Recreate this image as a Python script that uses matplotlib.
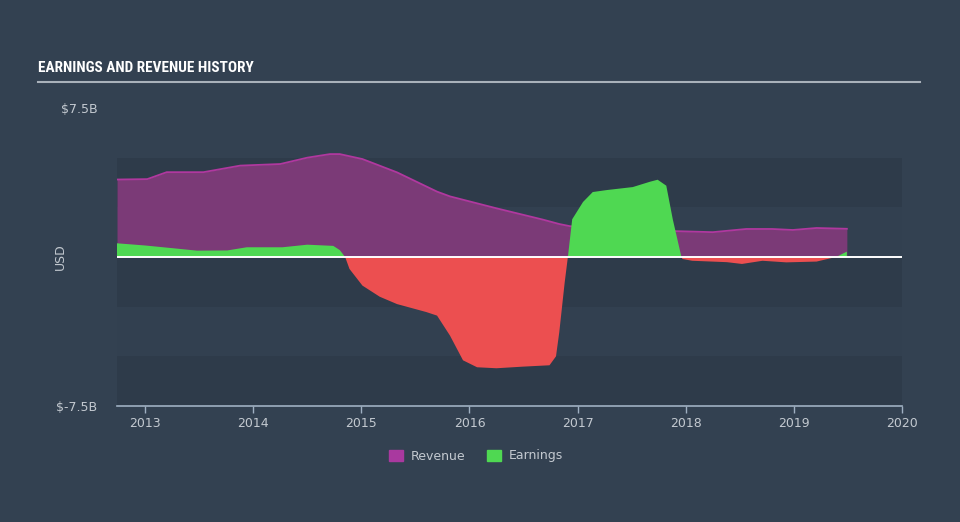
import numpy as np
import matplotlib
matplotlib.use("Agg")
import matplotlib.pyplot as plt
from matplotlib.patches import Patch
from matplotlib import font_manager

# revenue, USD billions
rev_t = [2012.74, 2013.02, 2013.20, 2013.54, 2013.88, 2014.25, 2014.50, 2014.71, 2014.80,
         2015.01, 2015.33, 2015.70, 2015.82, 2016.25, 2016.68, 2016.83, 2016.93, 2017.20,
         2017.60, 2017.92, 2018.25, 2018.56, 2018.80, 2018.99, 2019.21, 2019.49]
rev_v = [3.90, 3.92, 4.27, 4.27, 4.60, 4.68, 5.00, 5.18, 5.18,
         4.93, 4.26, 3.29, 3.05, 2.45, 1.88, 1.66, 1.55, 1.45,
         1.35, 1.30, 1.25, 1.41, 1.41, 1.36, 1.46, 1.42]

# earnings, USD billions
earn_t = [2012.74, 2013.00, 2013.26, 2013.48, 2013.76, 2013.94, 2014.27, 2014.50, 2014.74,
          2014.80, 2014.85, 2014.89, 2015.01, 2015.17, 2015.33, 2015.60, 2015.70, 2015.82,
          2015.94, 2016.07, 2016.25, 2016.49, 2016.74, 2016.80, 2016.83, 2016.88, 2016.91,
          2016.95, 2017.05, 2017.14, 2017.27, 2017.51, 2017.67, 2017.74, 2017.82, 2017.88,
          2017.96, 2017.97, 2018.06, 2018.38, 2018.52, 2018.71, 2018.93, 2019.21, 2019.39,
          2019.49]
earn_v = [0.69, 0.58, 0.44, 0.32, 0.33, 0.49, 0.49, 0.62, 0.56,
          0.35, 0.00, -0.60, -1.44, -2.00, -2.37, -2.77, -2.95, -3.96,
          -5.20, -5.55, -5.60, -5.52, -5.45, -5.00, -3.80, -1.30, 0.00,
          1.90, 2.77, 3.27, 3.37, 3.52, 3.79, 3.89, 3.59, 1.90,
          0.00, -0.10, -0.19, -0.26, -0.35, -0.19, -0.27, -0.23, 0.00,
          0.27]

years = [2013, 2014, 2015, 2016, 2017, 2018, 2019, 2020]

bg = "#334151"
dark = "#2e3b4a"
light = "#324050"
txt = "#c3c9d0"

# narrow font for the title if one is installed
names = {f.name for f in font_manager.fontManager.ttflist}
title_fam = [n for n in ["Liberation Sans Narrow", "DejaVu Sans Condensed", "Roboto Condensed"] if n in names]
title_size = 11 if title_fam else 9.5
title_fam = title_fam + ["DejaVu Sans"]

fig = plt.figure(figsize=(9.6, 5.22), dpi=100, facecolor=bg)
ax = fig.add_axes([117 / 960, 1 - 406 / 522, 785 / 960, 298 / 522])
ax.set_facecolor(bg)
ax.set_xlim(2012.74, 2020.0)
ax.set_ylim(-7.5, 7.5)

for lo, hi, c in [(2.5, 5, dark), (0, 2.5, light), (-2.5, 0, dark), (-5, -2.5, light), (-7.5, -5, dark)]:
    ax.axhspan(lo, hi, color=c, lw=0, zorder=0)

rt = np.array(rev_t)
rv = np.array(rev_v)
ax.fill_between(rt, 0, rv, color="#7b3a77", lw=0, zorder=2)
ax.plot(rt, rv, color="#b0389f", lw=1.3, zorder=3)

et = np.array(earn_t)
ev = np.array(earn_v)
ax.fill_between(et, 0, ev, where=ev >= 0, interpolate=True, color="#4fd852", lw=0, zorder=4)
ax.fill_between(et, 0, ev, where=ev <= 0, interpolate=True, color="#ec4f50", lw=0, zorder=4)

ax.axhline(0, color="white", lw=1.4, zorder=5)

for s in ["top", "right", "left"]:
    ax.spines[s].set_visible(False)
ax.spines["bottom"].set_color("#9fb0c2")
ax.spines["bottom"].set_linewidth(1.2)

ax.set_xticks(years)
ax.set_xticklabels([str(y) for y in years])
ax.tick_params(axis="x", colors="#9fb0c2", length=5, width=1, labelcolor=txt, labelsize=9, pad=3)
ax.set_yticks([7.5, -7.5])
ax.set_yticklabels(["$7.5B", "$-7.5B"])
ax.tick_params(axis="y", length=0, labelcolor=txt, labelsize=9, pad=14)
ax.set_ylabel("USD", color=txt, fontsize=9)
ax.yaxis.set_label_coords((67 - 117) / 785, 0.5)

fig.text(38 / 960, 1 - 68 / 522, "EARNINGS AND REVENUE HISTORY", color="white",
         fontsize=title_size, fontweight="bold", fontstretch="condensed",
         va="center", ha="left", family=title_fam)
fig.add_artist(plt.Line2D([38 / 960, 920 / 960], [1 - 82 / 522, 1 - 82 / 522],
                          color="#a9b1ba", lw=1.5))

handles = [Patch(color="#a9399f", label="Revenue"), Patch(color="#4fd852", label="Earnings")]
fig.legend(handles=handles, loc="center", bbox_to_anchor=(476 / 960, 1 - 456 / 522), ncol=2,
           frameon=False, fontsize=9, labelcolor=txt, handlelength=1.1, handleheight=1.0,
           columnspacing=1.8, handletextpad=0.6)

fig.savefig("out.png", dpi=100, facecolor=bg)
